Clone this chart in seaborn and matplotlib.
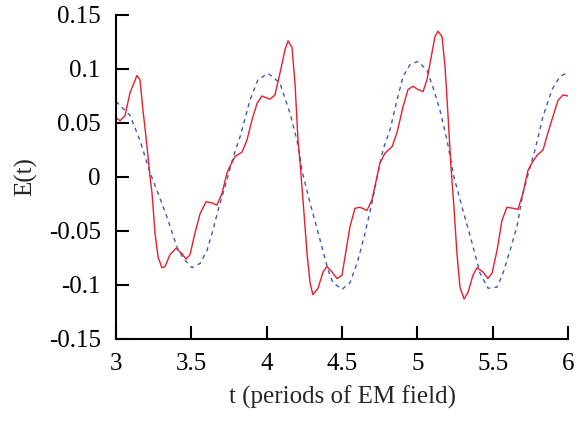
import numpy as np
import pandas as pd
import matplotlib
matplotlib.use('Agg')
import matplotlib.pyplot as plt
import seaborn as sns

# red curve (full field)
t_red = [3.000, 3.027, 3.060, 3.093, 3.139, 3.159, 3.179, 3.206, 3.226, 3.239,
         3.259, 3.279, 3.305, 3.325, 3.358, 3.398, 3.438, 3.465, 3.491, 3.524,
         3.558, 3.597, 3.637, 3.670, 3.704, 3.737, 3.757, 3.790, 3.836, 3.869,
         3.903, 3.936, 3.969, 4.022, 4.055, 4.088, 4.122, 4.142, 4.168, 4.188,
         4.208, 4.221, 4.241, 4.268, 4.288, 4.307, 4.341, 4.374, 4.400, 4.434,
         4.467, 4.500, 4.520, 4.553, 4.586, 4.619, 4.666, 4.699, 4.732, 4.752,
         4.785, 4.832, 4.865, 4.905, 4.938, 4.971, 5.004, 5.038, 5.064, 5.097,
         5.117, 5.137, 5.164, 5.184, 5.204, 5.223, 5.243, 5.263, 5.283, 5.310,
         5.336, 5.369, 5.396, 5.436, 5.469, 5.496, 5.529, 5.562, 5.595, 5.635,
         5.668, 5.701, 5.734, 5.761, 5.794, 5.834, 5.867, 5.900, 5.934, 5.967,
         6.000]
e_red = [0.055, 0.052, 0.057, 0.078, 0.094, 0.090, 0.062, 0.028, 0.000, -0.015,
         -0.052, -0.074, -0.084, -0.083, -0.072, -0.066, -0.071, -0.076, -0.072, -0.052,
         -0.034, -0.023, -0.024, -0.026, -0.015, 0.004, 0.010, 0.019, 0.023, 0.034,
         0.053, 0.068, 0.075, 0.072, 0.076, 0.096, 0.118, 0.126, 0.120, 0.087,
         0.034, 0.014, -0.021, -0.071, -0.098, -0.109, -0.103, -0.088, -0.083, -0.088,
         -0.094, -0.091, -0.074, -0.046, -0.029, -0.028, -0.031, -0.021, 0.000, 0.013,
         0.022, 0.028, 0.041, 0.065, 0.081, 0.084, 0.081, 0.079, 0.090, 0.115,
         0.130, 0.135, 0.130, 0.102, 0.056, 0.010, -0.028, -0.071, -0.102, -0.113,
         -0.107, -0.091, -0.084, -0.088, -0.094, -0.089, -0.068, -0.040, -0.028, -0.029,
         -0.030, -0.015, 0.006, 0.013, 0.020, 0.025, 0.041, 0.056, 0.071, 0.076,
         0.075]

# blue dashed curve
t_blue = [3.000, 3.093, 3.159, 3.226, 3.279, 3.338, 3.405, 3.445, 3.504, 3.558,
          3.604, 3.644, 3.677, 3.723, 3.777, 3.823, 3.889, 3.942, 4.009, 4.088,
          4.155, 4.201, 4.221, 4.234, 4.288, 4.354, 4.407, 4.440, 4.500, 4.553,
          4.606, 4.653, 4.699, 4.739, 4.772, 4.819, 4.865, 4.905, 4.951, 5.004,
          5.064, 5.104, 5.150, 5.197, 5.243, 5.303, 5.363, 5.416, 5.469, 5.529,
          5.569, 5.615, 5.661, 5.701, 5.748, 5.781, 5.834, 5.894, 5.947, 6.000]
e_blue = [0.070, 0.057, 0.034, 0.004, -0.015, -0.037, -0.065, -0.075, -0.084, -0.080,
          -0.068, -0.049, -0.031, -0.009, 0.018, 0.037, 0.071, 0.090, 0.096, 0.087,
          0.059, 0.034, 0.019, 0.006, -0.024, -0.058, -0.086, -0.098, -0.104, -0.098,
          -0.077, -0.052, -0.024, 0.004, 0.025, 0.044, 0.071, 0.093, 0.104, 0.107,
          0.099, 0.083, 0.062, 0.034, 0.000, -0.031, -0.061, -0.089, -0.103, -0.102,
          -0.089, -0.068, -0.046, -0.015, 0.009, 0.025, 0.056, 0.081, 0.093, 0.097]

x_ticks = [3, 3.5, 4, 4.5, 5, 5.5, 6]
x_labels = ['3', '3.5', '4', '4.5', '5', '5.5', '6']
y_ticks = [-0.15, -0.1, -0.05, 0, 0.05, 0.1, 0.15]
y_labels = ['-0.15', '-0.1', '-0.05', '0', '0.05', '0.1', '0.15']

sns.set_style('ticks')
plt.rcParams['font.family'] = ['Liberation Serif', 'DejaVu Serif']

red_df = pd.DataFrame({'t': t_red, 'E': e_red})
blue_df = pd.DataFrame({'t': t_blue, 'E': e_blue})

fig = plt.figure(figsize=(5.78, 4.22), dpi=100)
ax = fig.add_axes([0.2007, 0.1967, 0.7820, 0.7678])

sns.lineplot(data=blue_df, x='t', y='E', ax=ax, color='#3a5cb8', lw=1.0,
             dashes=False, sort=False, estimator=None)
ax.lines[-1].set_dashes((3, 3))
sns.lineplot(data=red_df, x='t', y='E', ax=ax, color='#ee1c2a', lw=1.0,
             sort=False, estimator=None)

ax.set_xlim(3, 6)
ax.set_ylim(-0.15, 0.15)
ax.set_xticks(x_ticks)
ax.set_xticklabels(x_labels)
ax.set_yticks(y_ticks)
ax.set_yticklabels(y_labels)
ax.tick_params(direction='in', length=9.5, width=1.5, labelsize=18, colors='black')
ax.tick_params(axis='x', pad=10)
ax.tick_params(axis='y', pad=11)
sns.despine(ax=ax)
for s in ['left', 'bottom']:
    ax.spines[s].set_linewidth(1.5)
    ax.spines[s].set_color('black')

ax.set_xlabel('t (periods of EM field)', fontsize=18, labelpad=8)
ax.set_ylabel('E(t)', fontsize=18, labelpad=8)

fig.savefig('out.png', dpi=100)
